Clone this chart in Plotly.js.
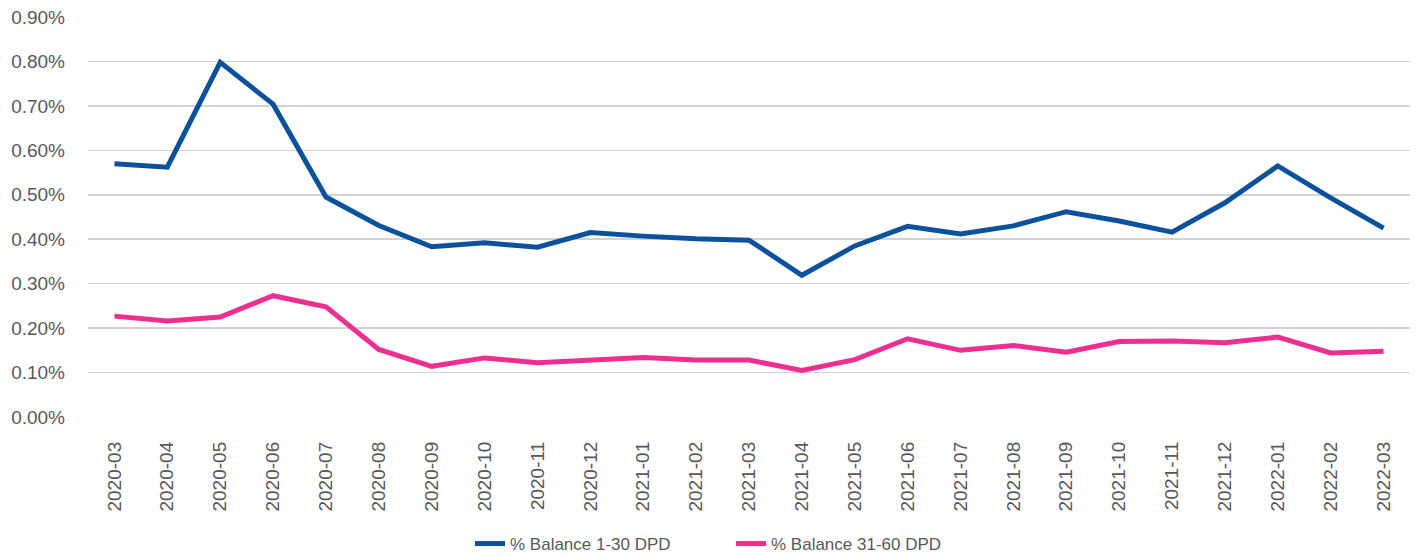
<!DOCTYPE html>
<html>
<head>
<meta charset="utf-8">
<script src="https://cdn.plot.ly/plotly-3.0.1.min.js"></script>
<style>html,body{margin:0;padding:0;background:#fff;}#chart{width:1416px;height:557px;}</style>
</head>
<body>
<div id="chart"></div>
<script>
const categories = ["2020-03","2020-04","2020-05","2020-06","2020-07","2020-08","2020-09","2020-10","2020-11","2020-12","2021-01","2021-02","2021-03","2021-04","2021-05","2021-06","2021-07","2021-08","2021-09","2021-10","2021-11","2021-12","2022-01","2022-02","2022-03"];
const balance1to30 = [0.570,0.562,0.798,0.704,0.495,0.431,0.383,0.392,0.382,0.415,0.407,0.401,0.398,0.319,0.385,0.429,0.412,0.430,0.462,0.441,0.416,0.482,0.565,0.493,0.425];
const balance31to60 = [0.227,0.216,0.225,0.273,0.248,0.152,0.114,0.133,0.122,0.129,0.134,0.128,0.128,0.105,0.129,0.176,0.150,0.161,0.146,0.170,0.171,0.167,0.180,0.144,0.148];
const seriesNames = ["% Balance 1-30 DPD","% Balance 31-60 DPD"];

const font = {family:"Liberation Sans, Arial, sans-serif", size:19, color:"#595959"};
const legendFont = {family:"Liberation Sans, Arial, sans-serif", size:17, color:"#595959"};
const data = [
  {x:categories, y:balance1to30, name:seriesNames[0], type:"scatter", mode:"lines",
   line:{color:"#0B519C", width:5}},
  {x:categories, y:balance31to60, name:seriesNames[1], type:"scatter", mode:"lines",
   line:{color:"#EC2F91", width:5}}
];
const layout = {
  width:1416, height:557,
  margin:{l:88, r:6, t:17, b:140},
  paper_bgcolor:"#fff", plot_bgcolor:"#fff",
  font:font,
  showlegend:true,
  legend:{orientation:"h", xref:"container", yref:"container", x:470/1416, xanchor:"left",
          y:(557-544)/557, yanchor:"middle", font:legendFont, entrywidth:216, entrywidthmode:"pixels",
          bgcolor:"rgba(0,0,0,0)"},
  xaxis:{type:"category", range:[-0.5,24.5], tickangle:-90, showgrid:false, zeroline:false,
         showline:false, ticks:"", tickfont:font, ticklabelstandoff:20, automargin:false, fixedrange:true},
  yaxis:{range:[0,0.9001], dtick:0.1, tick0:0, tickformat:".2f", ticksuffix:"%",
         showgrid:true, gridcolor:"#D3D3D3", gridwidth:1.5, zeroline:false, showline:false,
         ticks:"", tickfont:font, ticklabelstandoff:22, automargin:false, fixedrange:true}
};
Plotly.newPlot("chart", data, layout, {displayModeBar:false, staticPlot:true});
</script>
</body>
</html>
